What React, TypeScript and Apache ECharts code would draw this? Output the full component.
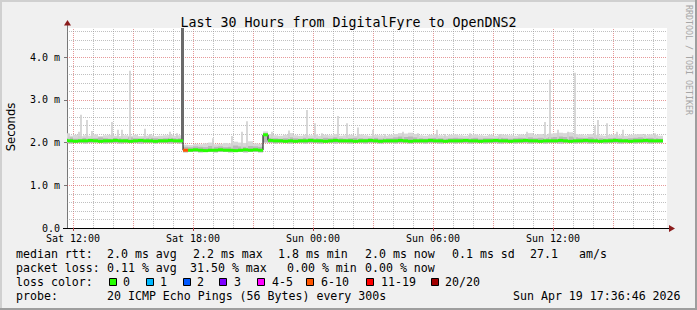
import React, { useEffect, useRef } from "react";
import * as echarts from "echarts";

// ---- axis ranges (hours since Sat 00:00, milliseconds) ----
const X_MIN = 11.7;
const X_MAX = 41.7;
const Y_MAX = 4.68;
const STEP_HOURS = 0.25;
const FIRST_STEP_END = 11.75;

// ---- tick labels ----
const xLabelHours = [12, 18, 24, 30, 36];
const xLabelTexts = ["Sat 12:00", "Sat 18:00", "Sun 00:00", "Sun 06:00", "Sun 12:00"];
const yLabelValues = [0, 1, 2, 3, 4];

// ---- median rtt per 15-minute step (ms) ----
const medianRtt = [
  2.05, 2.04, 2.03, 2.04, 2.04, 2.05, 2.04, 2.03, 2.04, 2.04,
  2.05, 2.04, 2.04, 2.03, 2.04, 2.05, 2.04, 2.04, 2.03, 2.04,
  2.04, 2.05, 2.04, 2.04, 1.82, 1.82, 1.83, 1.82, 1.81, 1.82,
  1.82, 1.83, 1.82, 1.82, 1.81, 1.82, 1.83, 1.82, 1.83, 1.82,
  2.18, 2.05, 2.04, 2.04, 2.03, 2.04, 2.03, 2.04, 2.04, 2.05,
  2.04, 2.04, 2.03, 2.04, 2.05, 2.04, 2.04, 2.04, 2.03, 2.04,
  2.04, 2.05, 2.04, 2.03, 2.04, 2.04, 2.04, 2.05, 2.04, 2.03,
  2.04, 2.04, 2.04, 2.05, 2.04, 2.04, 2.03, 2.04, 2.04, 2.04,
  2.05, 2.04, 2.04, 2.03, 2.04, 2.04, 2.05, 2.04, 2.04, 2.03,
  2.04, 2.04, 2.05, 2.04, 2.04, 2.03, 2.04, 2.04, 2.04, 2.05,
  2.04, 2.03, 2.04, 2.04, 2.05, 2.04, 2.04, 2.03, 2.04, 2.04,
  2.05, 2.04, 2.04, 2.03, 2.04, 2.04, 2.05, 2.04, 2.04, 2.04,
];

// ---- smoke: lowest ping, upper edge of dense smoke, highest ping (ms) ----
const smokeLow = [
  1.99, 1.98, 1.99, 1.99, 1.98, 1.99, 2.0, 1.99, 1.98, 1.99,
  1.99, 1.98, 1.99, 1.99, 1.99, 1.98, 1.99, 1.99, 1.98, 1.99,
  1.99, 1.98, 1.99, 1.98, 1.77, 1.78, 1.78, 1.77, 1.78, 1.78,
  1.77, 1.78, 1.78, 1.77, 1.78, 1.78, 1.77, 1.78, 1.78, 1.77,
  2.0, 1.99, 1.98, 1.99, 1.99, 1.98, 1.99, 1.99, 1.98, 1.99,
  1.99, 1.98, 1.99, 1.99, 1.98, 1.99, 1.99, 1.98, 1.99, 1.99,
  1.98, 1.99, 1.99, 1.98, 1.99, 1.99, 1.98, 1.99, 1.99, 1.98,
  1.99, 1.99, 1.98, 1.99, 1.99, 1.98, 1.99, 1.99, 1.98, 1.99,
  1.99, 1.98, 1.99, 1.99, 1.98, 1.99, 1.99, 1.98, 1.99, 1.99,
  1.98, 1.99, 1.99, 1.98, 1.99, 1.99, 1.98, 1.99, 1.99, 1.98,
  1.99, 1.99, 1.98, 1.99, 1.99, 1.98, 1.99, 1.99, 1.98, 1.99,
  1.99, 1.98, 1.99, 1.99, 1.98, 1.99, 1.99, 1.98, 1.99, 1.99,
];
const smokeMid = [
  2.1, 2.12, 2.09, 2.1, 2.11, 2.09, 2.1, 2.12, 2.1, 2.09,
  2.11, 2.1, 2.09, 2.12, 2.1, 2.09, 2.1, 2.11, 2.1, 2.09,
  2.1, 2.11, 2.1, 2.1, 1.9, 1.89, 1.91, 1.9, 1.89, 1.92,
  1.9, 1.91, 1.89, 1.9, 1.93, 1.91, 1.9, 1.92, 1.91, 1.9,
  2.22, 2.11, 2.1, 2.09, 2.1, 2.12, 2.1, 2.09, 2.11, 2.1,
  2.1, 2.09, 2.11, 2.1, 2.12, 2.1, 2.09, 2.1, 2.11, 2.1,
  2.09, 2.1, 2.11, 2.09, 2.1, 2.1, 2.12, 2.14, 2.13, 2.14,
  2.12, 2.1, 2.09, 2.1, 2.11, 2.1, 2.09, 2.1, 2.11, 2.1,
  2.09, 2.1, 2.11, 2.09, 2.1, 2.1, 2.09, 2.11, 2.1, 2.09,
  2.1, 2.11, 2.1, 2.12, 2.1, 2.11, 2.1, 2.12, 2.13, 2.14,
  2.13, 2.14, 2.12, 2.11, 2.1, 2.12, 2.11, 2.1, 2.09, 2.1,
  2.11, 2.1, 2.09, 2.1, 2.11, 2.12, 2.1, 2.11, 2.1, 2.09,
];
const smokeHigh = [
  2.22, 2.16, 2.18, 2.15, 2.17, 2.16, 2.19, 2.15, 2.17, 2.18,
  2.16, 2.15, 2.17, 2.16, 2.18, 2.15, 2.16, 2.17, 2.15, 2.16,
  2.17, 2.18, 2.16, 2.17, 1.95, 1.94, 1.97, 1.96, 1.98, 2.0,
  1.96, 1.97, 1.99, 1.98, 2.02, 2.0, 1.99, 2.03, 1.98, 1.97,
  2.26, 2.2, 2.17, 2.16, 2.18, 2.22, 2.17, 2.16, 2.18, 2.17,
  2.19, 2.16, 2.18, 2.17, 2.2, 2.16, 2.17, 2.18, 2.16, 2.19,
  2.17, 2.16, 2.18, 2.17, 2.16, 2.18, 2.2, 2.22, 2.21, 2.23,
  2.2, 2.17, 2.16, 2.18, 2.19, 2.17, 2.16, 2.18, 2.19, 2.17,
  2.16, 2.18, 2.19, 2.17, 2.16, 2.18, 2.16, 2.19, 2.18, 2.17,
  2.16, 2.19, 2.18, 2.22, 2.18, 2.2, 2.18, 2.21, 2.22, 2.23,
  2.22, 2.24, 2.2, 2.19, 2.17, 2.2, 2.18, 2.17, 2.16, 2.18,
  2.19, 2.17, 2.16, 2.18, 2.19, 2.2, 2.17, 2.19, 2.18, 2.16,
];

// ---- lost pings (of 20) per step ----
const lostPings = [
  0, 0, 0, 0, 0, 0, 0, 0, 0, 0,
  0, 0, 0, 0, 0, 0, 0, 0, 0, 0,
  0, 0, 0, 0, 6, 0, 0, 0, 0, 0,
  0, 0, 0, 0, 0, 0, 0, 0, 0, 0,
  0, 0, 0, 0, 0, 0, 0, 0, 0, 0,
  0, 0, 0, 0, 0, 0, 0, 0, 0, 0,
  0, 0, 0, 0, 0, 0, 0, 0, 0, 0,
  0, 0, 0, 0, 0, 0, 0, 0, 0, 0,
  0, 0, 0, 0, 0, 0, 0, 0, 0, 0,
  0, 0, 0, 0, 0, 0, 0, 0, 0, 0,
  0, 0, 0, 0, 0, 0, 0, 0, 0, 0,
  0, 0, 0, 0, 0, 0, 0, 0, 0, 0,
];

// ---- single slow pings: [hour, from ms, to ms] ----
const spikes = [
  [11.8, 2.05, 2.22], [12.3, 2.05, 2.25], [12.4, 2.05, 2.65], [12.7, 2.05, 2.53],
  [12.95, 2.05, 2.27], [13.95, 2.05, 2.48], [14.25, 2.05, 2.3], [14.45, 2.05, 2.3],
  [14.85, 2.05, 3.68], [15.6, 2.05, 2.32], [15.85, 2.05, 2.2], [16.85, 2.05, 2.25],
  [17.2, 2.05, 2.22], [19.0, 1.85, 2.1], [19.95, 1.85, 2.15], [20.45, 1.85, 2.25],
  [20.7, 1.85, 2.5], [21.95, 2.05, 2.25], [22.8, 2.05, 2.28], [23.7, 2.05, 2.76],
  [24.1, 2.05, 2.45], [24.45, 2.05, 2.22], [25.25, 2.05, 2.62], [25.7, 2.05, 2.45],
  [26.25, 2.05, 2.35], [27.0, 2.05, 2.3], [27.6, 2.05, 2.2], [28.5, 2.05, 2.25],
  [29.25, 2.05, 2.22], [30.2, 2.05, 2.3], [30.6, 2.05, 2.2], [31.85, 2.05, 2.22],
  [33.35, 2.05, 2.2], [34.7, 2.05, 2.25], [35.6, 2.05, 2.48], [35.85, 2.05, 3.47],
  [36.25, 2.05, 2.3], [36.75, 2.05, 2.25], [37.1, 2.05, 3.63], [38.1, 2.05, 2.4],
  [38.25, 2.05, 2.53], [38.7, 2.05, 2.45], [39.2, 2.05, 2.25], [39.5, 2.05, 2.3],
  [40.6, 2.05, 2.2], [41.1, 2.05, 2.22],
];

// ---- the loss burst: [from hour, to hour, from ms, to ms] ----
const burst = [[17.4, 17.55, 2.04, 4.68]];

// ---- loss colour legend ----
const lossLabels = ["0", "1", "2", "3", "4-5", "6-10", "11-19", "20/20"];
const lossUpper = [0, 1, 2, 3, 5, 10, 19, 20];
const lossColors = ["#26ff00", "#00b8ff", "#0059ff", "#7e00ff", "#ff00ff", "#ff5500", "#ff0000", "#a10000"];

// ---- statistics texts ----
const rttStats = ["2.0 ms avg", "2.2 ms max", "1.8 ms min", "2.0 ms now", "0.1 ms sd", "27.1", "am/s"];
const lossStats = ["0.11 % avg", "31.50 % max", "0.00 % min", "0.00 % now"];
const probeText = "20 ICMP Echo Pings (56 Bytes) every 300s";
const stampText = "Sun Apr 19 17:36:46 2026";

const MONO = "DejaVu Sans Mono";

function lossColor(lost: number) {
  for (let k = 0; k < lossUpper.length; k++) if (lost <= lossUpper[k]) return lossColors[k];
  return lossColors[lossColors.length - 1];
}

export default function App() {
  const ref = useRef<HTMLDivElement>(null);
  useEffect(() => {
    const chart = echarts.init(ref.current!, null, { renderer: "svg" });

    const stepEnds = medianRtt.map((_, i) => FIRST_STEP_END + STEP_HOURS * i);
    const smokeData = stepEnds.map((t, i) => [t, smokeLow[i], smokeMid[i], smokeHigh[i]]);
    const medianData = stepEnds.map((t, i) => [t, medianRtt[i], lostPings[i]]);
    const lineData = stepEnds.map((t, i) => [t, medianRtt[i]]);

    // grid positions
    const gridData: number[][] = [];
    for (let h = 12; h <= 41; h++) gridData.push([h, 0, h % 3 === 0 ? 1 : 0]);
    for (let k = 1; k <= 23; k++) {
      const v = Math.round(k * 0.2 * 10) / 10;
      gridData.push([v, 1, k % 5 === 0 ? 1 : 0]);
    }

    const txt = (x: number, y: number, text: string, extra: any = {}) => ({
      type: "text",
      x,
      y,
      silent: true,
      style: { text, fontFamily: MONO, fontSize: 11.6, fill: "#000", verticalAlign: "middle", align: "left", ...extra },
    });

    const graphics: any[] = [
      // frame shading
      { type: "rect", silent: true, shape: { x: 0, y: 0, width: 697, height: 2 }, style: { fill: "#d0d0d0" }, z: 10 },
      { type: "rect", silent: true, shape: { x: 0, y: 0, width: 2, height: 310 }, style: { fill: "#d0d0d0" }, z: 10 },
      { type: "rect", silent: true, shape: { x: 0, y: 308, width: 697, height: 2 }, style: { fill: "#9e9e9e" }, z: 10 },
      { type: "rect", silent: true, shape: { x: 695, y: 0, width: 2, height: 310 }, style: { fill: "#9e9e9e" }, z: 10 },
      // axis extensions and arrows
      { type: "line", silent: true, shape: { x1: 67.5, y1: 28, x2: 67.5, y2: 24 }, style: { stroke: "#777", lineWidth: 1 }, z: 10 },
      { type: "polygon", silent: true, shape: { points: [[64, 25.5], [71, 25.5], [67.5, 20]] }, style: { fill: "#8b1c1c" }, z: 10 },
      { type: "line", silent: true, shape: { x1: 63, y1: 228.5, x2: 67, y2: 228.5 }, style: { stroke: "#000", lineWidth: 1 }, z: 10 },
      { type: "line", silent: true, shape: { x1: 667, y1: 228.5, x2: 670, y2: 228.5 }, style: { stroke: "#000", lineWidth: 1 }, z: 10 },
      { type: "polygon", silent: true, shape: { points: [[669, 225], [669, 232], [675, 228.5]] }, style: { fill: "#8b1c1c" }, z: 10 },
      // vertical axis title
      {
        type: "text",
        x: 11,
        y: 127,
        rotation: Math.PI / 2,
        silent: true,
        style: { text: "Seconds", fontFamily: "DejaVu Sans", fontSize: 11.6, fill: "#000", verticalAlign: "middle", align: "center" },
      },
      // watermark
      {
        type: "text",
        x: 689,
        y: 5,
        rotation: -Math.PI / 2,
        silent: true,
        style: { text: "RRDTOOL / TOBI OETIKER", fontFamily: MONO, fontSize: 8.3, fill: "#a6a6a6", verticalAlign: "middle", align: "left" },
      },
      // statistics
      txt(16, 254, "median rtt:"),
      txt(107, 254, rttStats[0]),
      txt(193, 254, rttStats[1]),
      txt(278, 254, rttStats[2]),
      txt(365, 254, rttStats[3]),
      txt(452, 254, rttStats[4]),
      txt(530, 254, rttStats[5]),
      txt(579, 254, rttStats[6]),
      txt(16, 268, "packet loss:"),
      txt(107, 268, lossStats[0]),
      txt(190, 268, lossStats[1]),
      txt(287, 268, lossStats[2]),
      txt(365, 268, lossStats[3]),
      txt(16, 282, "loss color:"),
      txt(16, 296, "probe:"),
      txt(107, 296, probeText),
      txt(513, 296, stampText),
    ];
    const boxX = [109, 146, 183, 219, 257, 306, 366, 431];
    const labX = [123, 160, 197, 234, 272, 321, 381, 445];
    lossLabels.forEach((lab, k) => {
      graphics.push({
        type: "rect",
        silent: true,
        shape: { x: boxX[k] + 0.5, y: 278.5, width: 7, height: 7 },
        style: { fill: lossColors[k], stroke: "#000", lineWidth: 1 },
      });
      graphics.push(txt(labX[k], 282, lab));
    });

    const option: any = {
      animation: false,
      backgroundColor: "#f0f0f0",
      title: {
        text: "Last 30 Hours from DigitalFyre to OpenDNS2",
        left: "center",
        top: 11,
        textStyle: { fontFamily: MONO, fontSize: 13.3, fontWeight: "normal", color: "#000" },
      },
      grid: {
        left: 67,
        right: 30,
        top: 28,
        bottom: 82,
        show: true,
        backgroundColor: "#ffffff",
        borderWidth: 0,
        containLabel: false,
        outerBoundsMode: "none",
      },
      xAxis: {
        type: "value",
        min: X_MIN,
        max: X_MAX,
        axisLine: { show: true, onZero: false, lineStyle: { color: "#000", width: 1 } },
        axisTick: { show: true, customValues: xLabelHours, length: 3, lineStyle: { color: "#b04848" } },
        axisLabel: {
          customValues: xLabelHours,
          formatter: (v: number) => {
            const k = xLabelHours.findIndex((h) => Math.abs(h - v) < 1e-6);
            return k >= 0 ? xLabelTexts[k] : "";
          },
          fontFamily: MONO,
          fontSize: 10,
          color: "#000",
          margin: 5,
        },
        splitLine: { show: false },
      },
      yAxis: {
        type: "value",
        min: 0,
        max: Y_MAX,
        axisLine: { show: true, lineStyle: { color: "#777", width: 1 } },
        axisTick: { show: true, customValues: yLabelValues, length: 3, lineStyle: { color: "#777" } },
        axisLabel: {
          customValues: yLabelValues,
          formatter: (v: number) => (v === 0 ? "0.0" : v.toFixed(1) + " m"),
          fontFamily: MONO,
          fontSize: 10,
          color: "#000",
          margin: 7,
        },
        splitLine: { show: false },
      },
      graphic: graphics,
      series: [
        {
          type: "custom",
          z: 1,
          silent: true,
          data: gridData,
          renderItem: (params: any, api: any) => {
            const v = api.value(0);
            const horiz = api.value(1) === 1;
            const major = api.value(2) === 1;
            const stroke = major ? "rgba(210,70,70,0.55)" : "rgba(140,140,140,0.55)";
            const p0 = api.coord([X_MIN, 0]);
            const p1 = api.coord([X_MAX, Y_MAX]);
            if (horiz) {
              const y = Math.round(api.coord([X_MIN, v])[1]) + 0.5;
              return { type: "line", shape: { x1: p0[0], y1: y, x2: p1[0], y2: y }, style: { stroke, lineWidth: 1, lineDash: [1, 1] } };
            }
            const x = Math.round(api.coord([v, 0])[0]) + 0.5;
            return { type: "line", shape: { x1: x, y1: p0[1], x2: x, y2: p1[1] }, style: { stroke, lineWidth: 1, lineDash: [1, 1] } };
          },
        },
        {
          type: "custom",
          z: 2,
          silent: true,
          clip: true,
          data: smokeData,
          renderItem: (params: any, api: any) => {
            const t = api.value(0);
            const x1 = api.coord([t - STEP_HOURS, 0])[0];
            const x2 = api.coord([t, 0])[0];
            const yLo = api.coord([t, api.value(1)])[1];
            const yMid = api.coord([t, api.value(2)])[1];
            const yHi = api.coord([t, api.value(3)])[1];
            return {
              type: "group",
              children: [
                { type: "rect", shape: { x: x1, y: yHi, width: x2 - x1, height: yLo - yHi }, style: { fill: "#d8d8d8" } },
                { type: "rect", shape: { x: x1, y: yMid, width: x2 - x1, height: yLo - yMid }, style: { fill: "#b8b8b8" } },
              ],
            };
          },
        },
        {
          type: "custom",
          z: 3,
          silent: true,
          clip: true,
          data: spikes,
          renderItem: (params: any, api: any) => {
            const t = api.value(0);
            const w = api.size([1 / 12, 0])[0];
            const x = api.coord([t, 0])[0];
            const yB = api.coord([t, api.value(1)])[1];
            const yT = api.coord([t, api.value(2)])[1];
            return { type: "rect", shape: { x: x - w / 2, y: yT, width: w, height: yB - yT }, style: { fill: "#d0d0d0" } };
          },
        },
        {
          type: "custom",
          z: 4,
          silent: true,
          clip: true,
          data: burst,
          renderItem: (params: any, api: any) => {
            const a = api.coord([api.value(0), api.value(3)]);
            const b = api.coord([api.value(1), api.value(2)]);
            return { type: "rect", shape: { x: a[0], y: a[1], width: b[0] - a[0], height: b[1] - a[1] }, style: { fill: "#6a6a6a" } };
          },
        },
        {
          type: "line",
          z: 5,
          silent: true,
          step: "start",
          showSymbol: false,
          symbol: "none",
          data: lineData,
          lineStyle: { color: "#000", width: 1 },
        },
        {
          type: "custom",
          z: 6,
          silent: true,
          clip: true,
          data: medianData,
          renderItem: (params: any, api: any) => {
            const t = api.value(0);
            const x1 = api.coord([t - STEP_HOURS, 0])[0];
            const x2 = api.coord([t, 0])[0];
            const y = api.coord([t, api.value(1)])[1];
            return { type: "rect", shape: { x: x1, y: y - 1.5, width: x2 - x1, height: 3 }, style: { fill: lossColor(api.value(2)) } };
          },
        },
      ],
    };
    chart.setOption(option);
    return () => chart.dispose();
  }, []);
  return <div ref={ref} style={{ position: "fixed", left: 0, top: 0, width: 697, height: 310 }} />;
}
